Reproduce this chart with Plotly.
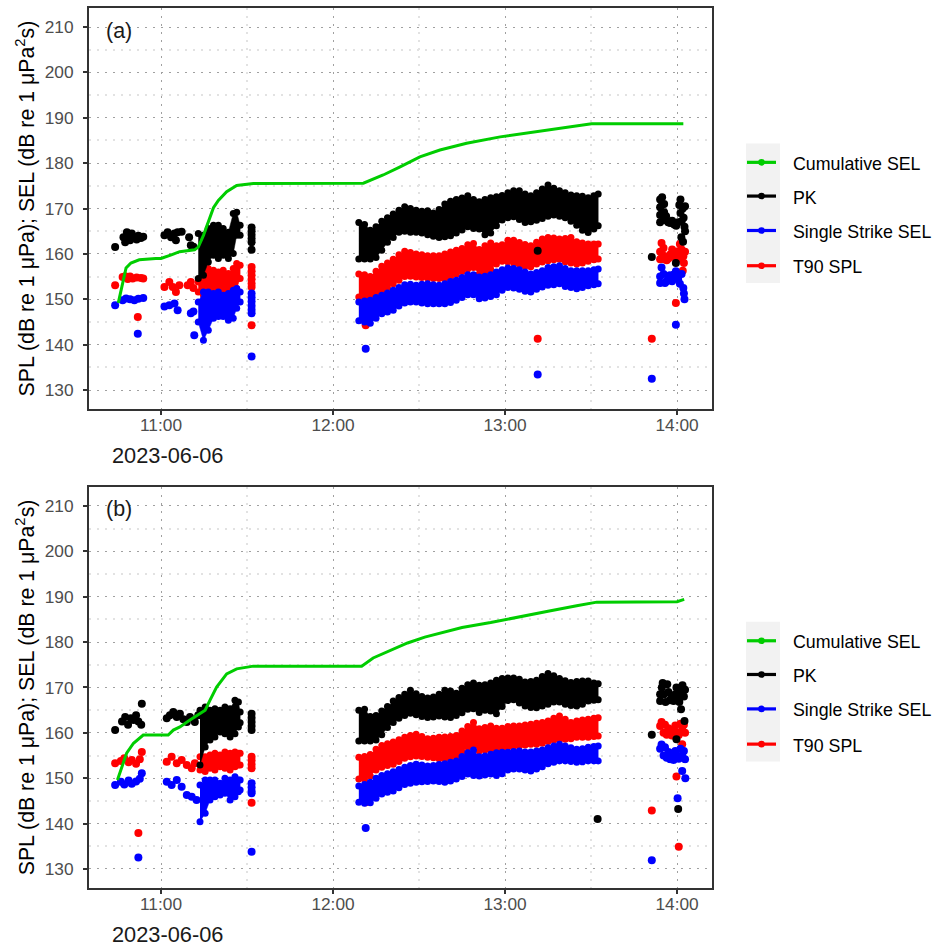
import pandas as pd
import plotly.graph_objects as go
from plotly.subplots import make_subplots

ORIGIN = pd.Timestamp("2023-06-06 11:00:00")   # all times below are minutes after 11:00

GREEN, BLACK, BLUE, RED = "#00CD00", "#000000", "#0000FF", "#FF0000"
SERIES = ["Cumulative SEL", "PK", "Single Strike SEL", "T90 SPL"]
SERIES_COLORS = [GREEN, BLACK, BLUE, RED]

# ---------------- dense piling period (12:09 - 13:32): upper / lower envelope of strikes
BAND_T = [69, 71, 73, 75, 77, 79, 81, 83, 85, 87, 89, 91, 93, 95, 97, 99, 101, 103, 105, 107, 109,
          111, 113, 115, 117, 119, 121, 123, 125, 127, 129, 131, 133, 135, 137, 139, 141, 143, 145,
          147, 149, 151, 152.5]

PK_A_HI = [166.9, 166.5, 165.2, 166.0, 167.2, 168.0, 168.8, 169.6, 170.4, 170.0, 169.6, 169.4, 169.5, 169.0, 169.8,
           171.0, 171.6, 172.0, 172.3, 172.8, 172.0, 171.5, 172.0, 172.4, 172.6, 172.9, 173.5, 173.9, 173.9, 173.2,
           172.8, 173.5, 174.3, 175.2, 174.5, 173.9, 173.5, 173.0, 172.8, 172.7, 172.4, 172.8, 173.2]
PK_A_LO = [158.9, 158.9, 158.9, 159.2, 160.8, 162.6, 163.6, 164.8, 165.0, 164.8, 164.8, 164.6, 164.2, 163.9, 163.6,
           163.8, 164.0, 164.6, 165.3, 166.0, 165.6, 165.5, 164.2, 164.6, 166.2, 167.5, 168.0, 168.2, 167.6, 166.9,
           167.1, 167.4, 167.8, 168.3, 168.6, 168.3, 168.0, 167.2, 166.3, 165.2, 164.7, 165.5, 166.2]
T90_A_HI = [155.6, 155.4, 155.0, 156.2, 157.3, 158.0, 158.8, 159.8, 160.6, 160.3, 160.0, 159.8, 159.6, 159.6, 159.6,
            160.0, 160.4, 160.8, 161.2, 162.0, 162.3, 161.0, 161.8, 162.4, 161.8, 162.0, 163.0, 163.0, 162.5, 162.1,
            161.8, 162.6, 163.3, 163.6, 163.5, 163.3, 163.4, 163.6, 162.7, 162.4, 162.2, 162.2, 162.2]
T90_A_LO = [150.5, 150.3, 150.2, 151.2, 151.9, 152.6, 153.4, 154.2, 155.0, 155.1, 154.9, 154.8, 154.7, 154.6, 154.6,
            154.6, 154.9, 155.5, 156.1, 156.7, 157.0, 155.6, 155.9, 156.6, 157.8, 158.4, 158.3, 158.0, 157.7, 157.3,
            157.2, 157.8, 158.2, 158.5, 158.7, 158.8, 158.3, 158.0, 157.8, 158.0, 158.4, 158.7, 158.9]
SS_A_HI = [149.4, 149.6, 149.8, 150.4, 150.9, 151.4, 152.0, 152.6, 153.2, 153.3, 153.1, 153.3, 153.4, 153.2, 153.1,
           153.4, 153.9, 154.2, 154.8, 155.4, 155.4, 154.9, 155.1, 155.4, 156.0, 156.5, 156.9, 156.8, 156.5, 156.0,
           155.6, 155.9, 156.3, 157.0, 157.2, 157.4, 156.8, 156.3, 156.3, 156.3, 156.3, 156.5, 156.7]
SS_A_LO = [145.3, 145.0, 144.7, 145.8, 146.8, 147.2, 147.6, 148.5, 149.2, 149.4, 149.4, 149.2, 149.0, 149.0, 149.0,
           149.0, 149.3, 149.8, 150.4, 151.0, 151.0, 150.1, 150.3, 150.6, 151.0, 152.0, 152.6, 152.5, 152.2, 151.8,
           151.6, 152.2, 152.7, 153.1, 153.2, 153.4, 152.8, 152.6, 152.3, 152.6, 153.0, 153.2, 153.4]

PK_B_HI = [165.0, 165.2, 163.6, 163.8, 164.8, 165.8, 167.0, 167.8, 168.5, 169.4, 168.6, 168.0, 167.7, 167.9, 168.5,
           169.4, 169.2, 168.7, 169.8, 170.6, 171.0, 170.5, 170.6, 171.0, 171.6, 172.0, 172.1, 172.1, 171.8, 171.2,
           171.3, 171.6, 172.4, 173.1, 172.6, 172.0, 171.5, 171.1, 171.3, 171.4, 171.4, 171.0, 170.8]
PK_B_LO = [158.2, 158.2, 158.2, 158.4, 159.6, 161.2, 162.3, 163.2, 163.8, 164.3, 164.0, 163.6, 163.4, 163.5, 163.7,
           163.5, 163.4, 163.8, 164.4, 165.2, 165.3, 164.5, 165.0, 164.8, 164.2, 165.8, 167.1, 167.3, 166.6, 165.9,
           165.6, 165.5, 165.9, 166.3, 166.8, 166.8, 166.3, 166.0, 165.9, 166.3, 167.0, 167.2, 167.3]
T90_B_HI = [154.6, 154.8, 155.2, 156.4, 157.2, 157.6, 158.0, 158.5, 159.0, 159.4, 159.7, 159.2, 158.7, 158.8, 159.0,
            159.1, 159.2, 159.4, 160.4, 161.4, 162.3, 160.9, 161.2, 161.5, 161.0, 161.0, 161.4, 161.5, 161.5, 161.7,
            161.9, 162.1, 162.3, 162.6, 163.2, 163.7, 163.0, 162.3, 162.6, 162.8, 163.0, 163.2, 163.3]
T90_B_LO = [149.8, 149.8, 150.5, 151.8, 152.4, 152.8, 153.1, 153.7, 154.4, 154.7, 154.9, 154.8, 154.6, 154.5, 154.3,
            154.3, 154.6, 154.9, 155.8, 156.9, 157.2, 156.0, 156.2, 156.4, 156.4, 156.6, 156.8, 157.0, 157.1, 157.3,
            157.5, 157.5, 157.7, 158.1, 158.4, 158.6, 158.6, 158.7, 159.0, 159.0, 159.0, 159.2, 159.3]
SS_B_HI = [148.3, 148.6, 149.1, 150.0, 150.6, 151.0, 151.4, 151.9, 152.4, 152.8, 153.1, 152.9, 152.7, 152.8, 153.0,
           153.2, 153.5, 153.8, 154.8, 155.6, 156.2, 154.7, 154.9, 155.3, 155.6, 155.7, 155.7, 155.9, 156.0, 155.8,
           155.8, 156.0, 156.2, 156.7, 157.1, 157.5, 157.1, 156.7, 156.4, 156.5, 156.8, 157.0, 157.1]
SS_B_LO = [144.7, 144.5, 144.6, 145.6, 146.5, 146.9, 147.2, 147.9, 148.6, 148.9, 149.1, 149.2, 149.3, 149.4, 149.3,
           149.1, 149.4, 149.8, 150.4, 150.9, 150.6, 150.5, 150.7, 150.9, 150.6, 151.0, 151.8, 152.0, 152.0, 151.8,
           151.6, 152.0, 152.5, 153.2, 153.5, 153.8, 153.8, 153.7, 153.5, 153.6, 153.8, 153.8, 153.8]

# ---------------- soft-start burst (11:13 - 11:28)
BURST_T_A = [13.0, 14.8, 16.5, 18.3, 20.0, 21.7, 23.5, 25.2, 26.4, 27.6]
PK_A_BURST_HI = [164.5, 164.1, 165.6, 166.3, 166.3, 165.6, 164.8, 168.9, 169.2, 166.3]
PK_A_BURST_LO = [154.6, 155.3, 158.2, 159.7, 159.0, 159.7, 159.0, 160.1, 164.1, 164.1]
T90_A_BURST_HI = [153.8, 156.4, 156.8, 156.4, 156.0, 156.4, 155.7, 156.8, 157.9, 157.5]
T90_A_BURST_LO = [151.6, 150.9, 151.6, 150.9, 151.3, 150.9, 151.6, 152.4, 152.4, 154.6]
SS_A_BURST_HI = [149.4, 151.6, 151.6, 151.3, 151.6, 150.9, 151.3, 152.0, 152.4, 151.6]
SS_A_BURST_LO = [145.0, 141.0, 143.2, 145.8, 146.2, 146.2, 145.4, 145.8, 148.0, 149.4]

BURST_T_B = [13.6, 15.4, 17.1, 18.8, 20.6, 22.3, 24.1, 25.8, 27.0, 27.6]
PK_B_BURST_HI = [165.0, 165.7, 165.0, 165.3, 165.0, 165.7, 165.3, 167.2, 166.8, 164.6]
PK_B_BURST_LO = [152.9, 156.9, 158.4, 159.1, 160.2, 159.8, 159.1, 159.8, 161.3, 162.2]
T90_B_BURST_HI = [154.7, 154.7, 155.1, 155.5, 155.1, 155.8, 155.5, 155.8, 155.5, 155.5]
T90_B_BURST_LO = [151.8, 151.5, 152.2, 151.8, 152.5, 152.2, 151.8, 152.5, 152.9, 152.9]
SS_B_BURST_HI = [148.5, 149.6, 149.6, 149.6, 148.9, 150.0, 149.6, 150.3, 149.6, 149.6]
SS_B_BURST_LO = [140.4, 142.3, 145.2, 145.9, 146.3, 146.7, 145.2, 145.9, 147.0, 147.4]

# ---------------- individual strikes (minute, dB)
PK_A_PTS = [(-16.0, 161.5), (-13.1, 163.7), (-12.5, 162.6), (-11.9, 164.8), (-11.3, 164.2), (-10.8, 163.0),
            (-10.2, 164.5), (-9.6, 163.6), (-8.5, 163.2), (-7.9, 164.0), (-7.0, 163.5), (-6.2, 163.8),
            (1.2, 164.1), (2.3, 164.8), (3.5, 163.7), (4.7, 164.5), (5.2, 163.0), (5.8, 164.8), (7.2, 164.9),
            (9.8, 163.7), (10.4, 161.9), (11.3, 161.6),
            (31.6, 165.8), (31.6, 165.0), (31.6, 164.2), (31.6, 163.4), (31.6, 162.6), (31.6, 160.9),
            (131.4, 160.7), (171.2, 159.3),
            (174.1, 172.0), (174.1, 170.3), (174.1, 168.6), (174.1, 167.0), (174.8, 172.5), (174.8, 170.8),
            (174.8, 169.0), (175.5, 171.0), (175.5, 169.2), (175.5, 167.5), (176.2, 168.3), (176.9, 167.0),
            (177.6, 166.8), (178.3, 167.3), (179.0, 166.5), (179.7, 166.2), (180.4, 167.0), (180.8, 170.8),
            (181.2, 172.0), (181.2, 169.0), (181.6, 167.2), (182.0, 170.0), (182.3, 168.0), (182.6, 166.0),
            (182.8, 170.5), (182.8, 165.0), (181.5, 163.7), (182.1, 162.7), (179.6, 158.0)]
T90_A_PTS = [(-16.0, 153.1), (-13.4, 154.9), (-12.5, 155.1), (-11.6, 154.5), (-10.8, 155.0), (-9.9, 154.6),
             (-8.5, 154.8), (-7.0, 154.7), (-6.2, 154.6), (-8.1, 146.1),
             (1.2, 152.7), (2.9, 153.8), (4.1, 152.7), (5.2, 151.6), (6.4, 153.1), (9.3, 153.1), (10.4, 153.8),
             (11.3, 152.5),
             (31.6, 157.1), (31.6, 156.2), (31.6, 155.3), (31.6, 154.4), (31.6, 153.5), (31.6, 152.7), (31.6, 144.3),
             (71.4, 144.3), (131.4, 141.3), (171.2, 141.3),
             (174.1, 160.5), (174.1, 158.8), (174.6, 162.4), (174.8, 160.0), (175.3, 161.3), (175.5, 158.8),
             (175.8, 159.3), (176.4, 158.6), (177.0, 159.0), (177.5, 159.8), (178.3, 161.0), (179.0, 159.3),
             (179.6, 160.2), (180.4, 160.6), (180.8, 159.0), (181.0, 162.2), (181.4, 159.2), (181.6, 161.0),
             (182.2, 159.5), (182.8, 160.5), (182.4, 158.0), (182.0, 156.3), (179.6, 149.2)]
SS_A_PTS = [(-16.0, 148.7), (-13.4, 149.8), (-12.2, 150.2), (-10.8, 150.0), (-9.3, 149.8), (-7.9, 150.1),
            (-6.2, 150.3), (-8.1, 142.4),
            (1.2, 148.4), (2.9, 148.7), (4.7, 149.1), (5.8, 147.6), (10.4, 146.9), (11.6, 142.1), (11.3, 147.3),
            (31.6, 151.3), (31.6, 150.4), (31.6, 149.5), (31.6, 148.6), (31.6, 147.7), (31.6, 146.9), (31.6, 137.4),
            (71.4, 139.1), (131.4, 133.4), (171.2, 132.5),
            (174.1, 155.0), (174.1, 153.6), (174.6, 157.0), (175.3, 155.6), (175.8, 153.6), (176.4, 154.0),
            (177.0, 154.8), (177.5, 155.3), (178.3, 154.0), (179.0, 155.5), (179.6, 156.2), (180.4, 154.5),
            (181.0, 153.4), (181.6, 155.6), (182.2, 152.5), (182.4, 151.3), (182.6, 150.0), (179.6, 144.4)]

PK_B_PTS = [(-16.0, 160.6), (-13.6, 162.5), (-12.5, 163.5), (-11.5, 161.8), (-10.5, 163.2), (-9.6, 162.8),
            (-8.7, 163.9), (-7.9, 162.5), (-6.9, 161.8), (-6.7, 166.4),
            (2.0, 163.2), (3.1, 163.9), (4.3, 164.6), (5.5, 163.5), (6.6, 164.2), (7.8, 163.0), (9.0, 162.4),
            (10.1, 163.5), (11.8, 162.4), (13.0, 163.9),
            (31.6, 164.2), (31.6, 163.3), (31.6, 162.4), (31.6, 161.5), (31.6, 160.6),
            (152.3, 141.0), (171.2, 159.6),
            (174.1, 168.5), (174.1, 167.0), (174.7, 170.0), (175.0, 171.0), (175.5, 168.5), (176.0, 166.8),
            (176.6, 170.7), (177.0, 169.0), (177.5, 167.2), (178.2, 168.0), (178.8, 167.0), (179.4, 168.5),
            (179.8, 170.0), (180.3, 168.0), (180.8, 166.8), (181.4, 169.2), (181.9, 170.5), (182.4, 168.0),
            (182.8, 169.5), (181.4, 165.2), (182.6, 162.6), (179.8, 158.6), (180.4, 143.2)]
T90_B_PTS = [(-16.0, 153.3), (-14.0, 153.8), (-12.8, 154.4), (-11.3, 153.5), (-10.2, 154.0), (-8.7, 153.2),
             (-7.4, 154.2), (-6.7, 155.8), (-7.9, 137.9),
             (2.0, 153.6), (3.7, 154.7), (5.5, 153.3), (7.2, 154.0), (9.0, 152.9), (10.7, 152.2), (11.8, 153.3),
             (31.6, 154.7), (31.6, 153.9), (31.6, 153.0), (31.6, 152.2), (31.6, 144.6),
             (71.4, 144.7), (171.2, 142.9),
             (174.1, 161.5), (174.6, 162.4), (175.3, 160.0), (175.8, 161.8), (176.4, 159.6), (177.0, 161.0),
             (177.6, 160.2), (178.2, 159.4), (178.8, 160.5), (179.4, 161.6), (180.0, 160.0), (180.6, 159.5),
             (181.2, 162.0), (181.8, 160.8), (182.4, 161.8), (182.8, 160.0), (181.8, 157.5), (179.8, 150.4),
             (180.6, 134.9)]
SS_B_PTS = [(-16.0, 148.5), (-14.0, 149.2), (-12.8, 148.6), (-11.3, 149.5), (-10.2, 148.8), (-8.7, 149.3),
            (-7.4, 149.9), (-6.7, 151.1), (-7.9, 132.5),
            (2.0, 149.2), (3.7, 148.5), (5.5, 149.6), (7.2, 148.1), (9.0, 146.3), (10.7, 145.9), (12.4, 145.2),
            (31.6, 148.9), (31.6, 148.0), (31.6, 147.2), (31.6, 146.7), (31.6, 133.8),
            (71.4, 139.0), (171.2, 131.9),
            (174.1, 156.5), (174.6, 157.4), (175.3, 155.0), (175.8, 156.8), (176.4, 154.5), (177.0, 155.8),
            (177.6, 154.2), (178.2, 155.5), (178.8, 154.0), (179.4, 156.0), (180.0, 155.0), (180.6, 154.3),
            (181.2, 156.5), (181.8, 155.0), (182.4, 156.0), (182.8, 154.2), (181.8, 151.6), (182.9, 150.0),
            (180.2, 145.6)]

# ---------------- cumulative SEL
CUM_A_T = [-14.9, -13.4, -12.2, -10.5, -7.6, -1.8, 0, 3.6, 6.5, 11.7, 13.0, 14.8, 16.5, 18.3, 20.0, 22.9, 26.4,
           32.2, 70.6, 77.5, 83.4, 90.3, 97.3, 106.6, 118.3, 129.9, 141.5, 150.2, 182.2]
CUM_A_V = [149.2, 153.2, 156.9, 158.0, 158.7, 159.0, 159.0, 159.8, 160.5, 160.9, 161.5, 164.1, 167.0, 170.2, 171.8,
           173.7, 175.1, 175.5, 175.6, 177.4, 179.2, 181.4, 182.9, 184.4, 185.8, 186.9, 188.0, 188.7, 188.7]
CUM_B_T = [-15.2, -12.0, -9.6, -6.2, -0.1, 2.5, 4.3, 6.6, 10.1, 13.0, 15.4, 17.1, 19.4, 22.9, 26.4, 32.2, 70.0,
           74.0, 80.0, 86.0, 92.0, 98.0, 105.0, 115.0, 125.0, 135.0, 145.0, 152.0, 180.0, 181.5, 182.5]
CUM_B_V = [149.6, 155.5, 157.7, 159.5, 159.5, 159.5, 160.6, 161.3, 162.8, 163.9, 165.0, 167.2, 170.1, 173.0, 174.1,
           174.7, 174.7, 176.5, 178.2, 179.8, 181.1, 182.1, 183.2, 184.3, 185.6, 186.8, 188.0, 188.8, 188.9, 189.2,
           189.4]

X_TICKS = [0, 60, 120, 180]
X_TICK_TEXT = ["11:00", "12:00", "13:00", "14:00"]
X_MINOR = [30, 90, 150]
X_RANGE = [-25.12, 192.2]
Y_TICKS = [130, 140, 150, 160, 170, 180, 190, 200, 210]
Y_MINOR = [135, 145, 155, 165, 175, 185, 195, 205]
Y_RANGE = [125.8, 214.2]

# page geometry (pixels) used to place the key boxes beside each panel
W, H = 935, 949
M_L, M_R, M_T, M_B = 89, 223, 6, 61
PLOT_W, PLOT_H = W - M_L - M_R, H - M_T - M_B


def px_x(px):
    return (px - M_L) / PLOT_W


def px_y(py):
    return (H - M_B - py) / PLOT_H


def clock(minutes):
    return [ORIGIN + pd.Timedelta(minutes=float(m)) for m in minutes]


def add_band(fig, row, t, hi, lo, color):
    # strikes too dense to separate: filled envelope with the edge strikes drawn as dots
    fig.add_trace(go.Scatter(
        x=clock(list(t) + list(t)[::-1]), y=list(hi) + list(lo)[::-1],
        mode="lines+markers", fill="toself", fillcolor=color,
        marker=dict(color=color, size=7), line=dict(width=0.5, color=color),
        showlegend=False, hoverinfo="skip"), row=row, col=1)


def add_points(fig, row, pts, color):
    t, v = zip(*pts)
    fig.add_trace(go.Scatter(x=clock(t), y=list(v), mode="markers",
                             marker=dict(color=color, size=8), showlegend=False),
                  row=row, col=1)


fig = make_subplots(rows=2, cols=1)

panels = [
    dict(row=1, band=(PK_A_HI, PK_A_LO, SS_A_HI, SS_A_LO, T90_A_HI, T90_A_LO),
         burst_t=BURST_T_A,
         burst=(PK_A_BURST_HI, PK_A_BURST_LO, SS_A_BURST_HI, SS_A_BURST_LO, T90_A_BURST_HI, T90_A_BURST_LO),
         pts=(PK_A_PTS, SS_A_PTS, T90_A_PTS), cum=(CUM_A_T, CUM_A_V)),
    dict(row=2, band=(PK_B_HI, PK_B_LO, SS_B_HI, SS_B_LO, T90_B_HI, T90_B_LO),
         burst_t=BURST_T_B,
         burst=(PK_B_BURST_HI, PK_B_BURST_LO, SS_B_BURST_HI, SS_B_BURST_LO, T90_B_BURST_HI, T90_B_BURST_LO),
         pts=(PK_B_PTS, SS_B_PTS, T90_B_PTS), cum=(CUM_B_T, CUM_B_V)),
]

for p in panels:
    r = p["row"]
    pk_hi, pk_lo, ss_hi, ss_lo, t90_hi, t90_lo = p["band"]
    bpk_hi, bpk_lo, bss_hi, bss_lo, bt90_hi, bt90_lo = p["burst"]
    pk_pts, ss_pts, t90_pts = p["pts"]
    # T90 SPL first, then single-strike SEL, then PK on top
    add_band(fig, r, BAND_T, t90_hi, t90_lo, RED)
    add_band(fig, r, p["burst_t"], bt90_hi, bt90_lo, RED)
    add_points(fig, r, t90_pts, RED)
    add_band(fig, r, BAND_T, ss_hi, ss_lo, BLUE)
    add_band(fig, r, p["burst_t"], bss_hi, bss_lo, BLUE)
    add_points(fig, r, ss_pts, BLUE)
    add_band(fig, r, BAND_T, pk_hi, pk_lo, BLACK)
    add_band(fig, r, p["burst_t"], bpk_hi, bpk_lo, BLACK)
    add_points(fig, r, pk_pts, BLACK)
    ct, cv = p["cum"]
    fig.add_trace(go.Scatter(x=clock(ct), y=cv, mode="lines", line=dict(color=GREEN, width=3),
                             showlegend=False), row=r, col=1)

FONT = "Liberation Sans, Arial, sans-serif"
axis_common = dict(showline=True, mirror=True, linecolor="#333333", linewidth=2,
                   ticks="outside", ticklen=4, tickwidth=1.5, tickcolor="#333333",
                   tickfont=dict(family=FONT, size=17.3, color="#4D4D4D"),
                   showgrid=True, gridcolor="#A0A0A0", gridwidth=1.4, griddash="2px,6px",
                   zeroline=False)

for ax_x, ax_y, dom in [("xaxis", "yaxis", [0.5442, 1.0]), ("xaxis2", "yaxis2", [0.0, 0.4558])]:
    fig.layout[ax_x].update(axis_common, type="date", range=clock(X_RANGE), tickmode="array",
                            tickvals=clock(X_TICKS), ticktext=X_TICK_TEXT, ticklabelstandoff=-5,
                            minor=dict(tickmode="array", tickvals=clock(X_MINOR), showgrid=True,
                                       gridcolor="#E2E2E2", gridwidth=1.8, ticks=""))
    fig.layout[ax_y].update(axis_common, domain=dom, range=Y_RANGE, tickmode="array",
                            tickvals=Y_TICKS, ticklabelstandoff=6,
                            minor=dict(tickmode="array", tickvals=Y_MINOR, showgrid=True,
                                       gridcolor="#E2E2E2", gridwidth=1.8, ticks=""),
                            title=dict(text="SPL (dB re 1 μPa); SEL (dB re 1 μPa<sup>2</sup>s)",
                                       font=dict(family=FONT, size=21.3, color="black"), standoff=4))

# keys: grey key column, a line with a dot, then the label (one set per panel)
shapes, annotations = [], []
KEY_X0, KEY_X1, BOX_X0, BOX_X1, TEXT_X = 747, 776, 746, 780, 791
KEY_ROWS = [160.7, 194.5, 229.0, 264.3]
for dy in (0.0, 479.5):
    shapes.append(dict(type="rect", xref="paper", yref="paper", x0=px_x(BOX_X0), x1=px_x(BOX_X1),
                       y0=px_y(281.7 + dy), y1=px_y(141.7 + dy), fillcolor="#F2F2F2",
                       line=dict(width=0), layer="below"))
    for yk, name, color in zip(KEY_ROWS, SERIES, SERIES_COLORS):
        yy = yk + dy
        shapes.append(dict(type="line", xref="paper", yref="paper", x0=px_x(KEY_X0), x1=px_x(KEY_X1),
                           y0=px_y(yy), y1=px_y(yy), line=dict(color=color, width=3.2)))
        cx = (KEY_X0 + KEY_X1) / 2
        shapes.append(dict(type="circle", xref="paper", yref="paper", x0=px_x(cx - 3.3), x1=px_x(cx + 3.3),
                           y0=px_y(yy + 3.3), y1=px_y(yy - 3.3), fillcolor=color, line=dict(width=0)))
        annotations.append(dict(text=name, xref="paper", yref="paper", x=px_x(TEXT_X), y=px_y(yy + 1.5),
                                xanchor="left", yanchor="middle", showarrow=False,
                                font=dict(family=FONT, size=17.8, color="black")))

annotations += [
    dict(text="(a)", xref="paper", yref="paper", x=px_x(118.5), y=px_y(29), xanchor="center", yanchor="middle",
         showarrow=False, font=dict(family=FONT, size=21.5, color="#1A1A1A")),
    dict(text="(b)", xref="paper", yref="paper", x=px_x(118.5), y=px_y(508.5), xanchor="center",
         yanchor="middle", showarrow=False, font=dict(family=FONT, size=21.5, color="#1A1A1A")),
    dict(text="2023-06-06", xref="paper", yref="paper", x=px_x(168), y=px_y(455), xanchor="center",
         yanchor="middle", showarrow=False, font=dict(family=FONT, size=21.8, color="#1A1A1A")),
    dict(text="2023-06-06", xref="paper", yref="paper", x=px_x(168), y=px_y(935), xanchor="center",
         yanchor="middle", showarrow=False, font=dict(family=FONT, size=21.8, color="#1A1A1A")),
]

fig.update_layout(
    width=W, height=H, autosize=False,
    margin=dict(l=M_L, r=M_R, t=M_T, b=M_B),
    plot_bgcolor="white", paper_bgcolor="white",
    font=dict(family=FONT), showlegend=False,
    shapes=shapes, annotations=annotations,
)

fig.write_html("out.html")
